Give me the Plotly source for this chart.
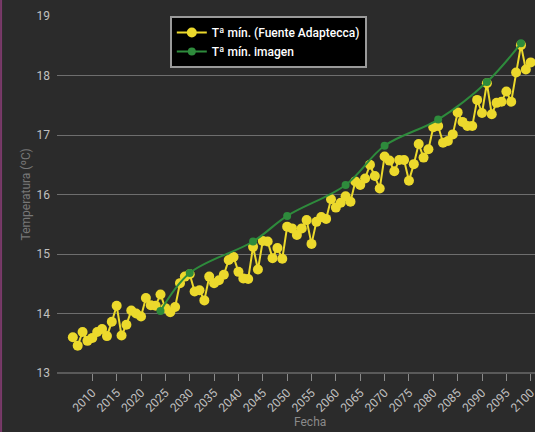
import plotly.graph_objects as go

years_obs = list(range(2006, 2101))
tmin_obs = [
    13.60, 13.46, 13.69, 13.54, 13.59, 13.69, 13.74, 13.62, 13.86, 14.13,
    13.63, 13.81, 14.05, 14.00, 13.95, 14.26, 14.14, 14.13, 14.32, 14.09,
    14.02, 14.11, 14.51, 14.62, 14.66, 14.37, 14.39, 14.22, 14.62, 14.51,
    14.56, 14.65, 14.90, 14.95, 14.70, 14.59, 14.58, 15.12, 14.74, 15.22,
    15.21, 14.93, 15.10, 14.92, 15.46, 15.43, 15.32, 15.43, 15.57, 15.17,
    15.54, 15.62, 15.59, 15.92, 15.78, 15.86, 15.97, 15.88, 16.22, 16.16,
    16.27, 16.50, 16.31, 16.10, 16.64, 16.57, 16.39, 16.58, 16.58, 16.23,
    16.51, 16.85, 16.62, 16.76, 17.13, 17.15, 16.87, 16.90, 17.01, 17.38,
    17.22, 17.15, 17.15, 17.59, 17.37, 17.87, 17.35, 17.54, 17.56, 17.73,
    17.56, 18.05, 18.51, 18.10, 18.22,
]

years_img = [2024, 2030, 2043, 2050, 2062, 2070, 2081, 2091, 2098]
tmin_img = [14.04, 14.68, 15.21, 15.64, 16.16, 16.82, 17.26, 17.89, 18.54]

tick_years = list(range(2010, 2101, 5))
y_ticks = [13, 14, 15, 16, 17, 18, 19]

BG = "#2b2b2b"
YELLOW = "#ecd92c"
GREEN = "#2e8b3c"

fig = go.Figure()
fig.add_trace(go.Scatter(
    x=years_obs, y=tmin_obs, mode="lines+markers",
    name="Tª mín. (Fuente Adaptecca)",
    line=dict(color=YELLOW, width=2),
    marker=dict(color=YELLOW, size=10, symbol="circle"),
))
fig.add_trace(go.Scatter(
    x=years_img, y=tmin_img, mode="lines+markers",
    name="Tª mín. imagen",
    line=dict(color=GREEN, width=2, shape="spline", smoothing=1.0),
    marker=dict(color=GREEN, size=8, symbol="circle"),
))

fig.update_layout(
    width=535, height=432,
    margin=dict(l=57, r=0, t=16, b=59, autoexpand=False),
    paper_bgcolor=BG, plot_bgcolor=BG,
    font=dict(family="Roboto", color="#bbbbbb", size=12),
    showlegend=True,
    legend=dict(
        x=0.236, y=1.0, xanchor="left", yanchor="top",
        bgcolor="#000000", bordercolor="#9a9a9a", borderwidth=2,
        font=dict(family="Roboto", size=12, color="#ffffff", weight=500),
        tracegroupgap=0, itemwidth=30,
    ),
    xaxis=dict(
        range=[2002.75, 2100.88], automargin=False,
        tickmode="array", tickvals=tick_years,
        ticktext=[str(v) for v in tick_years],
        tickangle=-45, ticks="outside", ticklen=7, tickcolor="#8a8a8a",
        tickfont=dict(size=12, color="#c0c0c0"),
        ticklabeloverflow="allow",
        showgrid=False, zeroline=False, showline=False,
    ),
    yaxis=dict(
        range=[13, 19], automargin=False,
        tickmode="array", tickvals=y_ticks,
        ticktext=[str(v) for v in y_ticks],
        showgrid=True, gridcolor="#6e6e6e", gridwidth=1,
        zeroline=False, showline=False,
        ticks="", ticklabelstandoff=6,
        tickfont=dict(size=12, color="#c0c0c0"),
    ),
    annotations=[
        dict(text="Fecha", xref="paper", yref="paper", x=0.53, y=-0.137,
             xanchor="center", yanchor="middle", showarrow=False,
             font=dict(size=12, color="#8a8a8a")),
        dict(text="Temperatura (ºC)", xref="paper", yref="paper", x=-0.065, y=0.5,
             xanchor="center", yanchor="middle", showarrow=False, textangle=-90,
             font=dict(size=12, color="#777777")),
    ],
    shapes=[
        dict(type="rect", xref="paper", yref="paper",
             x0=-0.2, x1=1.05, y0=1.045, y1=1.2,
             fillcolor="#3a3a3a", line=dict(width=0), layer="below"),
        dict(type="line", xref="paper", yref="paper",
             x0=-0.117, x1=-0.117, y0=-0.2, y1=1.045,
             line=dict(color="#7a3a6a", width=2)),
        dict(type="line", xref="paper", yref="paper",
             x0=0, x1=1, y0=0, y1=0,
             line=dict(color="#8a8a8a", width=1)),
    ],
)

fig.write_html(
    "out.html",
    config={"displayModeBar": False},
    post_script="document.body.style.margin='0';document.body.style.background='#2b2b2b';",
)
